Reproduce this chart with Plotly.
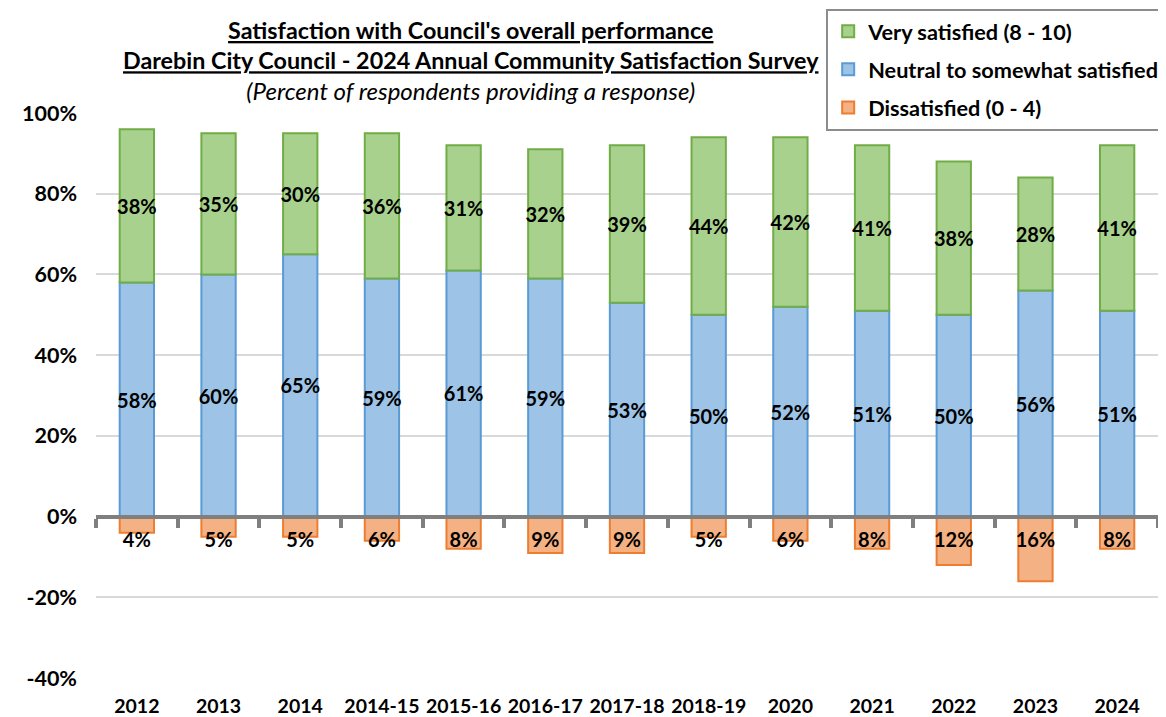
import plotly.graph_objects as go

categories = ["2012", "2013", "2014", "2014-15", "2015-16", "2016-17", "2017-18",
              "2018-19", "2020", "2021", "2022", "2023", "2024"]
very_satisfied = [38, 35, 30, 36, 31, 32, 39, 44, 42, 41, 38, 28, 41]
neutral = [58, 60, 65, 59, 61, 59, 53, 50, 52, 51, 50, 56, 51]
dissatisfied = [4, 5, 5, 6, 8, 9, 9, 5, 6, 8, 12, 16, 8]
y_ticks = [-40, -20, 0, 20, 40, 60, 80, 100]
y_tick_labels = ["-40%", "-20%", "0%", "20%", "40%", "60%", "80%", "100%"]
dissatisfied_label_y = -6.3

FONT = "Lato"
W, H = 1158, 709
ml, mr, mt, mb = 88, 1, 102, 39
plot_h = H - mt - mb
plot_w = W - ml - mr
LBL = dict(family=FONT, size=20, color="black", weight="bold")

fig = go.Figure()

fig.add_trace(go.Bar(
    x=categories, y=neutral, name="Neutral to somewhat satisfied",
    marker=dict(color="#9DC3E6", line=dict(color="#5B9BD5", width=2)),
    text=[f"{v}%" for v in neutral], textposition="inside", insidetextanchor="middle",
    textfont=LBL, textangle=0, constraintext="none",
    legendgroup="b", legendrank=2, width=0.42,
))
fig.add_trace(go.Bar(
    x=categories, y=very_satisfied, name="Very satisfied (8 - 10)",
    marker=dict(color="#A9D18E", line=dict(color="#70AD47", width=2)),
    text=[f"{v}%" for v in very_satisfied], textposition="inside", insidetextanchor="middle",
    textfont=LBL, textangle=0, constraintext="none",
    legendgroup="a", legendrank=1, width=0.42,
))
fig.add_trace(go.Bar(
    x=categories, y=[-v for v in dissatisfied], name="Dissatisfied (0 - 4)",
    marker=dict(color="#F4B183", line=dict(color="#ED7D31", width=2)),
    legendgroup="c", legendrank=3, width=0.42,
))
fig.add_trace(go.Scatter(
    x=categories, y=[dissatisfied_label_y] * len(categories), mode="text",
    text=[f"{v}%" for v in dissatisfied], textfont=LBL,
    showlegend=False, hoverinfo="skip",
))
# dummy trace for zero-line axis
fig.add_trace(go.Scatter(x=categories, y=[None] * len(categories), xaxis="x2",
                         showlegend=False, hoverinfo="skip", mode="markers"))

zero_pos = (0 - (-40)) / 140

fig.update_layout(
    width=W, height=H,
    margin=dict(l=ml, r=mr, t=mt, b=mb),
    barmode="relative",
    plot_bgcolor="white", paper_bgcolor="white",
    font=dict(family=FONT, color="black"),
    xaxis=dict(
        type="category", showgrid=False, showline=False, ticks="",
        tickfont=dict(family=FONT, size=19.5, color="black", weight="bold"),
        ticklabelstandoff=14,
        range=[-0.5, len(categories) - 0.5],
    ),
    xaxis2=dict(
        type="category", overlaying="x", anchor="free", position=zero_pos,
        matches="x", showline=True, linecolor="#7f7f7f", linewidth=4,
        ticks="outside", tickson="boundaries", ticklen=9, tickwidth=4, tickcolor="#7f7f7f",
        showticklabels=False, showgrid=False, layer="above traces",
        range=[-0.5, len(categories) - 0.5],
    ),
    yaxis=dict(
        range=[-40, 100], tickvals=y_ticks, ticktext=y_tick_labels,
        showgrid=True, gridcolor="#d9d9d9", gridwidth=1.5, zeroline=False,
        ticklabelstandoff=18,
        tickfont=dict(family=FONT, size=21.5, color="black", weight="bold"),
    ),
    showlegend=True,
    legend=dict(
        x=(823 - ml) / plot_w, y=(H - mb + 3) / plot_h, xanchor="left", yanchor="top",
        bordercolor="#8c8c8c", borderwidth=2, bgcolor="white",
        font=dict(family=FONT, size=21.7, color="black", weight="bold"),
        traceorder="grouped", tracegroupgap=7, itemwidth=30,
    ),
)

fig.add_annotation(
    xref="paper", yref="paper",
    x=(465 - ml) / plot_w, y=(H - mb - 2) / plot_h, xanchor="center", yanchor="top",
    text="<b><u>Satisfaction with Council's overall performance</u></b><br>"
         "<b><u>Darebin City Council - 2024 Annual Community Satisfaction Survey</u></b><br>"
         "<i><span style='font-size:24px'>(Percent of respondents providing a response)</span></i>",
    showarrow=False, align="center",
    font=dict(family=FONT, size=23.3, color="black"),
)

fig.write_html("out.html")
